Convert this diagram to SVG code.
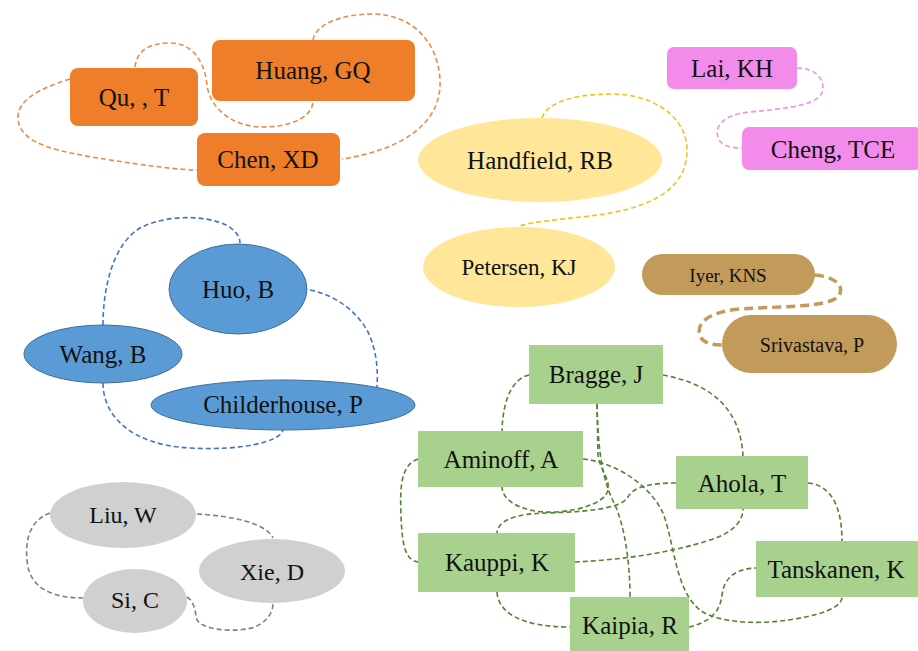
<svg xmlns="http://www.w3.org/2000/svg" width="918" height="651" viewBox="0 0 918 651">
<style>
text{font-family:"Liberation Serif","Times New Roman",serif;font-size:25px;fill:#111;text-anchor:middle}
.e{fill:none;stroke-width:1.6;stroke-dasharray:5 3}
.or{fill:#EE7E2A}.pk{fill:#F38BEA}.ye{fill:#FFE699}.bl{fill:#5B9BD5;stroke:#3F6E9E;stroke-width:1}
.gr{fill:#D0D0D0}.gn{fill:#A9D18E}.br{fill:#C29A5A}
</style>
<rect width="918" height="651" fill="#fff"/>
<g id="connectors">
<g stroke="#EE8A45" class="e">
<path class="e" d="M135,67 C137,50 150,43 170,43 C195,43 205,65 207,85 C210,110 235,127 262,127 C295,127 313,115 313,101"/>
<path class="e" d="M313,40 C315,25 340,14 373,14 C410,14 438,40 440,80 C442,125 400,150 342,159"/>
<path class="e" d="M70,79 C40,88 18,100 18,117 C18,145 60,152 110,160 C150,166 180,170 197,170"/>
</g>
<path class="e" stroke="#EE90E4" d="M797,68 C815,68 823,78 823,88 C823,105 790,108 750,112 C720,115 715,128 718,138 C721,146 732,148 742,148"/>
<path class="e" stroke="#F2C11A" d="M542,118 C548,100 580,94 613,94 C650,94 687,115 687,150 C687,195 640,210 590,216 C555,220 530,222 520,226"/>
<g stroke="#4472C4" class="e">
<path class="e" d="M103,325 C103,290 112,245 140,228 C165,215 205,214 228,226 C236,231 240,237 240,243"/>
<path class="e" d="M310,290 C335,295 355,310 367,330 C377,350 378,370 377,387"/>
<path class="e" d="M103,383 C103,415 130,445 190,448 C240,451 280,442 283,430"/>
</g>
<g stroke="#7F7F7F" class="e">
<path class="e" d="M50,513 C30,520 25,540 27,560 C29,590 55,598 83,598"/>
<path class="e" d="M197,514 C230,516 265,522 273,538"/>
<path class="e" d="M187,597 C195,602 195,612 197,620 C205,632 240,632 255,627 C270,620 273,610 273,603"/>
</g>
<path fill="none" stroke="#C29A5A" stroke-width="3.5" stroke-dasharray="9 5" d="M815,275 C838,277 845,288 838,297 C825,307 790,306 740,309 C705,312 696,325 700,336 C703,343 712,345 722,345"/>
<g stroke="#548235" class="e">
<path class="e" d="M529,375 C515,378 503,395 502,431"/>
<path class="e" d="M663,375 C700,382 740,400 743,456"/>
<path class="e" d="M597,404 L598,455 C600,470 610,478 608,490 C605,505 570,513 545,512 C520,511 502,500 502,487"/>
<path class="e" d="M597,404 C598,450 602,480 615,505 C624,525 630,560 630,597"/>
<path class="e" d="M583,459 C615,462 650,485 663,513 C675,545 675,590 700,610 C720,625 770,625 805,617 C830,612 842,605 842,597"/>
<path class="e" d="M676,483 C650,483 633,487 628,497 C620,510 580,512 545,513 C515,514 498,520 497,533"/>
<path class="e" d="M575,562 C620,560 670,553 710,540 C735,532 743,520 743,509"/>
<path class="e" d="M808,483 C830,485 842,505 842,541"/>
<path class="e" d="M689,627 C710,622 720,612 722,595 C724,578 735,569 756,568"/>
<path class="e" d="M418,459 C400,465 400,490 401,515 C402,545 405,560 418,562"/>
<path class="e" d="M497,592 C498,612 520,627 570,627"/>
</g>
</g>
<g id="qu"><rect class="or" x="70" y="68" width="128" height="58" rx="8"/><text x="134" y="106">Qu, , T</text></g>
<g id="huang"><rect class="or" x="212" y="40" width="203" height="61" rx="8"/><text x="313" y="79">Huang, GQ</text></g>
<g id="chen"><rect class="or" x="197" y="133" width="143" height="53" rx="8"/><text x="268" y="168">Chen, XD</text></g>
<g id="lai"><rect class="pk" x="667" y="47" width="130" height="42" rx="7"/><text x="732" y="77">Lai, KH</text></g>
<g id="cheng"><rect class="pk" x="742" y="127" width="180" height="43" rx="7"/><text x="833" y="158">Cheng, TCE</text></g>
<g id="handfield"><ellipse class="ye" cx="540" cy="160" rx="122" ry="42"/><text x="540" y="169">Handfield, RB</text></g>
<g id="petersen"><ellipse class="ye" cx="519" cy="267" rx="96" ry="40"/><text x="519" y="275" style="font-size:23px">Petersen, KJ</text></g>
<g id="iyer"><rect class="br" x="642" y="254" width="173" height="41" rx="20.5"/><text x="728" y="282" style="font-size:19px">Iyer, KNS</text></g>
<g id="srivastava"><rect class="br" x="722" y="315" width="175" height="58" rx="29"/><text x="812" y="352" style="font-size:20px">Srivastava, P</text></g>
<g id="huo"><ellipse class="bl" cx="238" cy="289" rx="69" ry="45"/><text x="238" y="298">Huo, B</text></g>
<g id="wang"><ellipse class="bl" cx="103" cy="354" rx="79" ry="29"/><text x="103" y="363">Wang, B</text></g>
<g id="childerhouse"><ellipse class="bl" cx="283" cy="405" rx="132" ry="25"/><text x="283" y="413">Childerhouse, P</text></g>
<g id="liu"><ellipse class="gr" cx="123" cy="515" rx="73" ry="33"/><text x="123" y="523" style="font-size:24px">Liu, W</text></g>
<g id="xie"><ellipse class="gr" cx="272" cy="571" rx="73" ry="32"/><text x="272" y="580" style="font-size:24px">Xie, D</text></g>
<g id="si"><ellipse class="gr" cx="135" cy="601" rx="52" ry="32"/><text x="135" y="608" style="font-size:24px">Si, C</text></g>
<g id="bragge"><rect class="gn" x="529" y="345" width="134" height="59"/><text x="596" y="383">Bragge, J</text></g>
<g id="aminoff"><rect class="gn" x="418" y="431" width="165" height="56"/><text x="501" y="468">Aminoff, A</text></g>
<g id="ahola"><rect class="gn" x="676" y="456" width="132" height="53"/><text x="742" y="492">Ahola, T</text></g>
<g id="kauppi"><rect class="gn" x="418" y="533" width="157" height="59"/><text x="497" y="571">Kauppi, K</text></g>
<g id="tanskanen"><rect class="gn" x="756" y="541" width="166" height="56"/><text x="836" y="578">Tanskanen, K</text></g>
<g id="kaipia"><rect class="gn" x="570" y="597" width="119" height="56"/><text x="630" y="634">Kaipia, R</text></g>
</svg>
